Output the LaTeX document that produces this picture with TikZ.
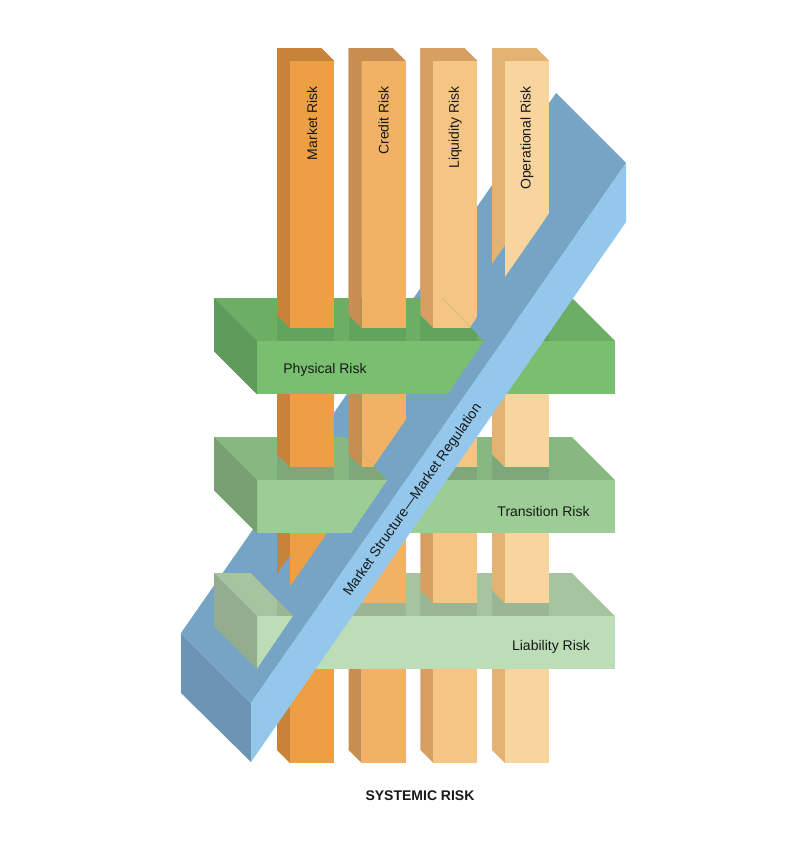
\documentclass[tikz,border=0pt]{standalone}
\usepackage{fontspec}
\setmainfont{Liberation Sans}
\definecolor{pmF}{HTML}{EE9F43}\definecolor{pmS}{HTML}{C8833A}
\definecolor{pcF}{HTML}{F2B266}\definecolor{pcS}{HTML}{C78E50}
\definecolor{plF}{HTML}{F5C584}\definecolor{plS}{HTML}{D7A062}
\definecolor{poF}{HTML}{F8D49E}\definecolor{poS}{HTML}{E2B373}
\definecolor{phT}{HTML}{6BAE64}\definecolor{phS}{HTML}{5E9A5A}\definecolor{phF}{HTML}{78C070}\definecolor{phP}{HTML}{62A35D}
\definecolor{trT}{HTML}{87B882}\definecolor{trS}{HTML}{77A170}\definecolor{trF}{HTML}{9CCD94}\definecolor{trP}{HTML}{7EA87A}
\definecolor{liT}{HTML}{A7C4A1}\definecolor{liS}{HTML}{93AE8E}\definecolor{liF}{HTML}{BCDDB6}\definecolor{liP}{HTML}{9AB695}
\definecolor{bT}{HTML}{76A4C4}\definecolor{bF}{HTML}{93C8EC}\definecolor{bE}{HTML}{6C95B3}
\newcommand\pilSide[2]{\fill[#2] (#1,48)--(#1+13,61)--(#1+13,763)--(#1,750)--cycle;
  \fill[#2] (#1,48)--(#1+44,48)--(#1+57,61)--(#1+13,61)--cycle;}
\newcommand\pilFront[2]{\fill[#2] (#1+13,61) rectangle (#1+57,763);}
\newcommand\slabDraw[5]{%
  \fill[#2] (214,#1)--(572,#1)--(615,#1+43)--(257,#1+43)--cycle;
  \foreach \xx/\ff/\ss in {277/pmF/pmS,348.7/pcF/pcS,420.3/plF/plS,492/poF/poS}{%
    \fill[#5] (\xx,#1) rectangle (\xx+57,#1+43);
    \fill[\ss] (\xx,#1)--(\xx+13,#1)--(\xx+13,#1+30)--(\xx,#1+17)--cycle;
    \fill[\ff] (\xx+13,#1) rectangle (\xx+57,#1+30);}
  \fill[#4] (257,#1+43) rectangle (615,#1+96);
  \fill[#3] (214,#1)--(257,#1+43)--(257,#1+96)--(214,#1+53)--cycle;}
\newcommand\slabFront[6]{\scope
  \clip (205,#1-1)--(#2-43,#1-1)--(#2,#1+43)--(#2-36.8,#1+97)--(205,#1+97)--cycle;
  \slabDraw{#1}{#3}{#4}{#5}{#6}\endscope}
\begin{document}
\begin{tikzpicture}[x=1pt,y=-1pt,
  lab/.style={font=\fontsize{14}{16}\selectfont, inner sep=0pt, text=black!90}]
\useasboundingbox (0,0) rectangle (800,841);
\fill[white] (0,0) rectangle (800,841);
% base pillars
\foreach \xx/\ff/\ss in {277/pmF/pmS,348.7/pcF/pcS,420.3/plF/plS,492/poF/poS}{
  \pilSide{\xx}{\ss}\pilFront{\xx}{\ff}}
% base slabs
\slabDraw{298}{phT}{phS}{phF}{phP}
\slabDraw{437}{trT}{trS}{trF}{trP}
\slabDraw{573}{liT}{liS}{liF}{liP}
% band
\fill[bE] (181,633)--(251,703)--(251,762)--(181,693)--cycle;
\fill[bT] (181,633)--(556,93)--(626,163)--(251,703)--cycle;
\fill[bF] (251,703)--(626,163)--(626,222)--(251,762)--cycle;
% pillars in front of band
\begin{scope}
  \clip (0,-200)--(800,-200)--(800,-179.7)--(0,972.3)--cycle;
  \foreach \xx/\ss in {277/pmS,348.7/pcS,420.3/plS,492/poS}{\pilSide{\xx}{\ss}}
\end{scope}
\begin{scope}
  \clip (0,-200)--(800,-200)--(800,-148)--(0,1004)--cycle;
  \foreach \xx/\ff in {277/pmF,348.7/pcF,420.3/plF,492/poF}{\pilFront{\xx}{\ff}}
\end{scope}
% slabs in front of band
\slabFront{298}{483.8}{phT}{phS}{phF}{phP}
\slabFront{437}{387.3}{trT}{trS}{trF}{trP}
\slabFront{573}{292.8}{liT}{liS}{liF}{liP}
% labels
\node[lab,rotate=90,anchor=east] (tm) at (312,86) {Market Risk};
\node[lab,rotate=90,anchor=east] (tc) at (383.7,86) {Credit Risk};
\node[lab,rotate=90,anchor=east] (tl) at (455.3,86) {Liquidity Risk};
\node[lab,rotate=90,anchor=east] (to) at (527,86) {Operational Risk};
\node[lab] (tp) at (325,370) {Physical Risk};
\node[lab] (tt) at (543.5,511) {Transition Risk};
\node[lab] (tli) at (551,647) {Liability Risk};
\node[lab,rotate=55.2] (tb) at (413,500) {Market Structure---Market Regulation};
\node[lab,font=\fontsize{14}{16}\selectfont\bfseries] (ts) at (420,796) {SYSTEMIC RISK};
\end{tikzpicture}
\end{document}
